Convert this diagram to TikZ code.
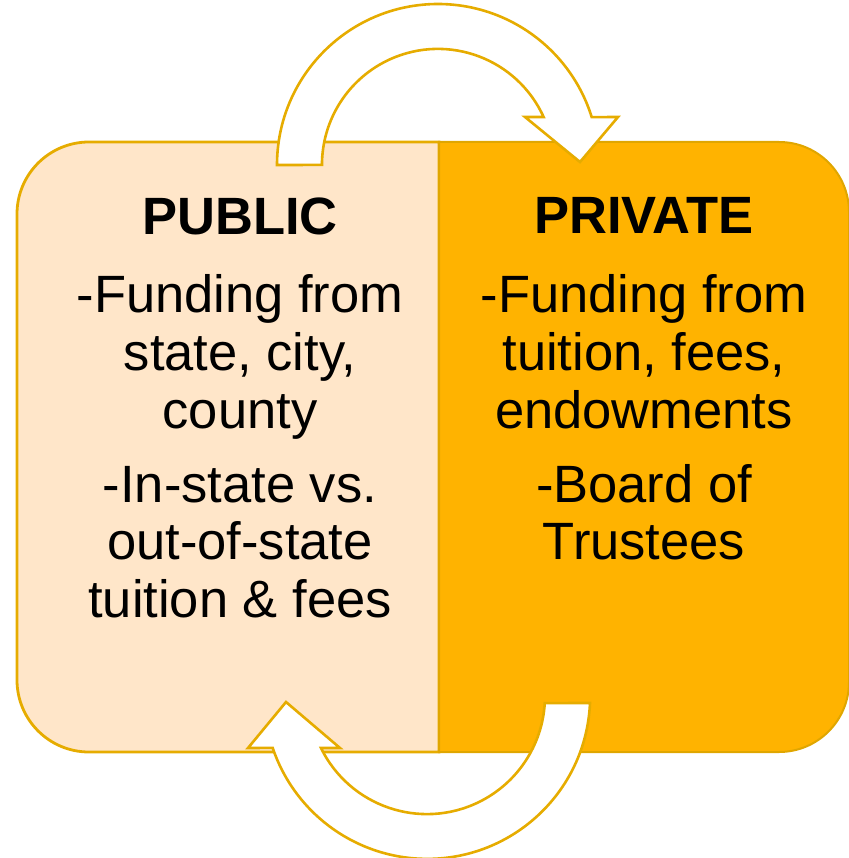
\documentclass[tikz,border=0pt]{standalone}
\usepackage{fontspec}
\setmainfont{Liberation Sans}
\definecolor{gold}{HTML}{E6AC00}
\definecolor{golddark}{HTML}{E0A600}
\definecolor{peach}{HTML}{FFE6C9}
\definecolor{amber}{HTML}{FFB300}
\begin{document}
\begin{tikzpicture}[x=1pt,y=-1pt,
  head/.style={anchor=base,inner sep=0pt,font=\fontsize{52.5}{58}\selectfont\bfseries},
  body/.style={anchor=base,inner sep=0pt,font=\fontsize{52.5}{58}\selectfont},
  arrowshape/.style={fill=white,draw=gold,line width=2.6pt,line join=miter}]
\useasboundingbox (0,0) rectangle (848,858);
% left box
\draw[fill=peach,draw=gold,line width=2.8pt]
  (439,142) -- (89,142) arc[start angle=270,end angle=180,radius=72]
  -- (17,680) arc[start angle=180,end angle=90,radius=72] -- (439,752) -- cycle;
% right box
\draw[fill=amber,draw=golddark,line width=2pt]
  (439,142) -- (779,142) arc[start angle=270,end angle=360,radius=70]
  -- (849,682) arc[start angle=0,end angle=90,radius=70] -- (439,752) -- cycle;
% top arrow
\draw[arrowshape]
  (277,165) arc[start angle=180,end angle=342.7,radius=161]
  -- (618,117) -- (580,162) -- (525,117) -- (543.6,117)
  arc[start angle=335.6,end angle=180,radius=116] -- cycle;
% bottom arrow
\draw[arrowshape]
  (590,703) arc[start angle=2.5,end angle=161.4,radius=163]
  -- (248,748) -- (286,702) -- (340,748) -- (321,748)
  arc[start angle=153.9,end angle=3.4,radius=118] -- cycle;
% left text
\node[head] (pubh) at (240,235) {PUBLIC};
\node[body] (pub1) at (240,312) {-Funding from};
\node[body] (pub2) at (240,370) {state, city,};
\node[body] (pub3) at (240,428) {county};
\node[body] (pub4) at (240,502) {-In-state vs.};
\node[body] (pub5) at (240,559) {out-of-state};
\node[body] (pub6) at (240,617) {tuition \& fees};
% right text
\node[head] (prih) at (644,234) {PRIVATE};
\node[body] (pri1) at (644,312) {-Funding from};
\node[body] (pri2) at (644,370) {tuition, fees,};
\node[body] (pri3) at (644,428) {endowments};
\node[body] (pri4) at (644,502) {-Board of};
\node[body] (pri5) at (644,559) {Trustees};
\end{tikzpicture}
\end{document}
